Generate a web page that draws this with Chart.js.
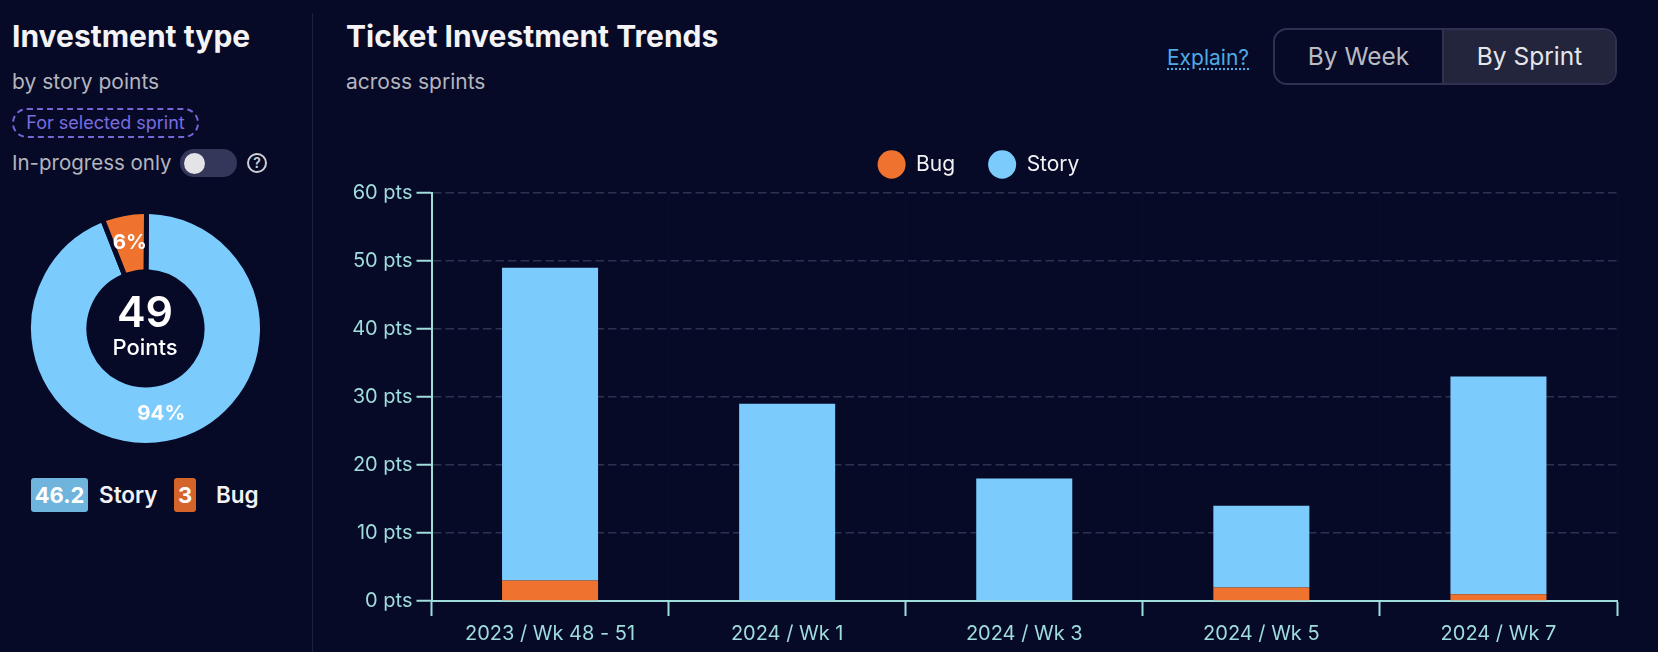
<!DOCTYPE html>
<html>
<head>
<meta charset="utf-8">
<script src="https://cdn.jsdelivr.net/npm/chart.js@4"></script>
<style>
  html, body { margin: 0; width: 1658px; height: 652px; background: #060a27; overflow: hidden; font-family: Inter, sans-serif; color: #fff; }
  .abs { position: absolute; white-space: nowrap; line-height: 1; }
  .title { font-size: 30px; font-weight: 700; color: #f4f4f6; }
  .sub { font-size: 21px; color: #b4b5bd; }
  #divider { position: absolute; left: 312px; top: 13px; width: 1px; height: 639px; background: #1c2140; }
  #pill { position: absolute; left: 12px; top: 108px; width: 187px; height: 30px; box-sizing: border-box; border: 2px dashed #7566d6; border-radius: 15px; color: #7a6ce0; font-size: 18px; line-height: 26px; text-align: center; }
  #switch { position: absolute; left: 180px; top: 149px; width: 57px; height: 28px; border-radius: 14px; background: #34365a; }
  #knob { position: absolute; left: 4px; top: 4px; width: 21px; height: 21px; border-radius: 50%; background: #e4e4e6; }
  #help { position: absolute; left: 247px; top: 153px; width: 20px; height: 20px; box-sizing: border-box; border: 2px solid #d0d0d4; border-radius: 50%; color: #d0d0d4; font-size: 14px; font-weight: 600; line-height: 16px; text-align: center; }
  #explain { left: 1167px; top: 47px; font-size: 21px; color: #4fa9e3; text-decoration: underline dotted; text-underline-offset: 3px; }
  #toggle { position: absolute; left: 1273px; top: 28px; width: 344px; height: 57px; box-sizing: border-box; border: 2px solid #2e3150; border-radius: 14px; overflow: hidden; display: flex; font-size: 24.5px; }
  #toggle div { line-height: 53px; text-align: center; }
  #week { width: 167px; color: #b9bac2; border-right: 2px solid #2e3150; }
  #sprint { flex: 1; background: #22253c; color: #e6e6ea; }
  .chip { position: absolute; top: 478px; height: 34px; border-radius: 3px; font-size: 22px; font-weight: 700; line-height: 34px; text-align: center; color: #fff; }
  .chiplabel { top: 484px; font-size: 22.5px; font-weight: 600; color: #f2f2f4; }
  #donutWrap { position: absolute; left: 25.8px; top: 209px; width: 239px; height: 239px; }
  #trendWrap { position: absolute; left: 340px; top: 121px; width: 1280px; height: 531px; }
</style>
</head>
<body>
<div class="abs title" style="left:12px;top:21px">Investment type</div>
<div class="abs sub" style="left:12px;top:71px">by story points</div>
<div id="pill">For selected sprint</div>
<div class="abs sub" style="left:12px;top:153px;font-size:20.5px">In-progress only</div>
<div id="switch"><div id="knob"></div></div>
<div id="help">?</div>
<div id="divider"></div>

<div id="donutWrap"><canvas id="donutChart"></canvas></div>
<div class="abs" style="left:95px;width:100px;text-align:center;top:290px;font-size:43px;font-weight:600">49</div>
<div class="abs" style="left:95px;width:100px;text-align:center;top:336px;font-size:22px;font-weight:500">Points</div>

<div class="chip" style="left:31px;width:57px;background:#6fb4dd">46.2</div>
<div class="abs chiplabel" style="left:99px">Story</div>
<div class="chip" style="left:174px;width:22px;background:#d5642b">3</div>
<div class="abs chiplabel" style="left:216px">Bug</div>

<div class="abs title" style="left:346px;top:21px">Ticket Investment Trends</div>
<div class="abs sub" style="left:346px;top:71px">across sprints</div>
<div class="abs" id="explain">Explain?</div>
<div id="toggle"><div id="week">By Week</div><div id="sprint">By Sprint</div></div>

<div id="trendWrap"><canvas id="trendChart"></canvas></div>

<script>
const sprints = ['2023 / Wk 48 - 51', '2024 / Wk 1', '2024 / Wk 3', '2024 / Wk 5', '2024 / Wk 7'];
const bugPoints = [3, 0, 0, 2, 1];
const storyPoints = [46, 29, 18, 12, 32];

const shareLabels = ['Story', 'Bug'];
const shareValues = [46.2, 3];
const sharePercents = ['94%', '6%'];

const storyColor = '#7ccbfd';
const bugColor = '#ef732e';
const axisColor = '#9fdcdc';
const pageColor = '#060a27';

Chart.defaults.font.family = 'Inter, sans-serif';
Chart.defaults.animation = false;

// percent text on top of the donut slices
const percentLabels = {
    id: 'percentLabels',
    afterDatasetsDraw(chart) {
        const ctx = chart.ctx;
        ctx.save();
        ctx.font = '700 20.5px Inter, sans-serif';
        ctx.fillStyle = '#ffffff';
        ctx.textAlign = 'center';
        ctx.textBaseline = 'middle';
        chart.getDatasetMeta(0).data.forEach((arc, i) => {
            const pos = arc.tooltipPosition();
            ctx.fillText(sharePercents[i], pos.x, pos.y);
        });
        ctx.restore();
    }
};

// keep the wide legend spacing without pushing the plot down
const legendHeight = {
    id: 'legendHeight',
    beforeInit(chart) {
        const fit = chart.legend.fit;
        chart.legend.fit = function () {
            fit.call(this);
            this.height = 72;
        };
    }
};

new Chart(document.getElementById('donutChart'), {
    type: 'doughnut',
    data: {
        labels: shareLabels,
        datasets: [{
            data: shareValues,
            backgroundColor: [storyColor, bugColor],
            borderColor: pageColor,
            borderWidth: 5,
            borderRadius: 3
        }]
    },
    options: {
        responsive: true,
        maintainAspectRatio: false,
        rotation: 0.5,
        cutout: '48.3%',
        plugins: { legend: { display: false }, tooltip: { enabled: false } }
    },
    plugins: [percentLabels]
});

new Chart(document.getElementById('trendChart'), {
    type: 'bar',
    data: {
        labels: sprints,
        datasets: [
            { label: 'Bug', data: bugPoints, backgroundColor: bugColor, barPercentage: 0.405, categoryPercentage: 1 },
            { label: 'Story', data: storyPoints, backgroundColor: storyColor, barPercentage: 0.405, categoryPercentage: 1 }
        ]
    },
    options: {
        responsive: true,
        maintainAspectRatio: false,
        layout: { padding: { right: 3 } },
        plugins: {
            tooltip: { enabled: false },
            legend: {
                position: 'top',
                labels: {
                    usePointStyle: true,
                    pointStyleWidth: 28,
                    boxHeight: 20,
                    padding: 33,
                    color: '#f2f2f4',
                    font: { size: 21 }
                }
            }
        },
        scales: {
            x: {
                stacked: true,
                afterFit(scale) { scale.height = 51; },
                border: { color: axisColor, width: 2 },
                grid: { color: 'rgba(255,255,255,0.02)', tickColor: axisColor, tickLength: 15, tickWidth: 2 },
                ticks: { color: axisColor, font: { size: 20 }, padding: 6, maxRotation: 0 }
            },
            y: {
                stacked: true,
                min: 0,
                max: 60,
                afterFit(scale) { scale.width = 91.5; },
                border: { color: axisColor, width: 2, dash: [8.5, 4] },
                grid: { color: '#2b3350', tickColor: axisColor, tickLength: 15, tickWidth: 2, lineWidth: 1.5 },
                ticks: { stepSize: 10, color: axisColor, font: { size: 20 }, padding: 4, callback: v => v + ' pts' }
            }
        }
    },
    plugins: [legendHeight]
});
</script>
</body>
</html>
